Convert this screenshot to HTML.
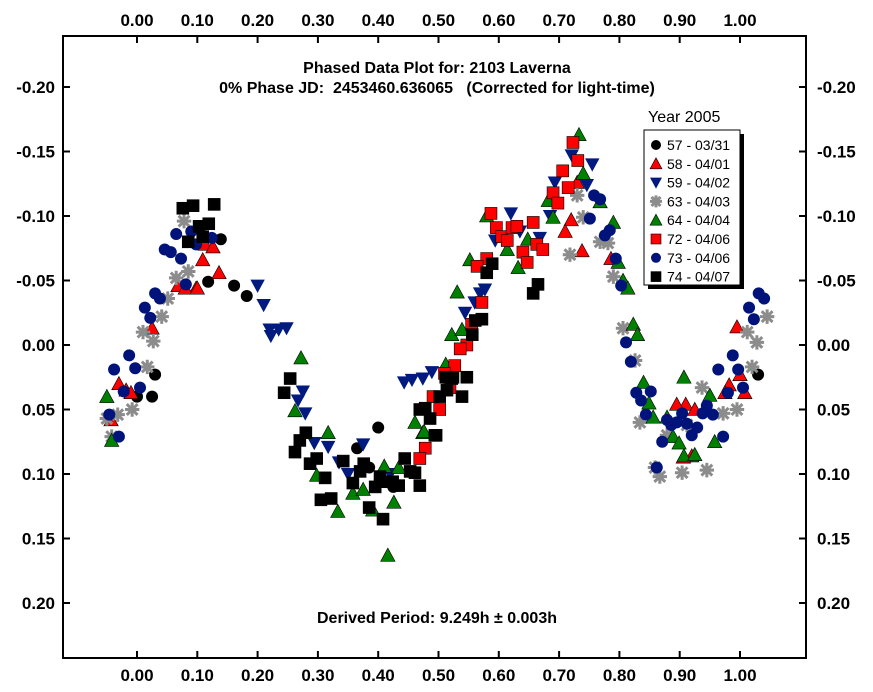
<!DOCTYPE html>
<html><head><meta charset="utf-8"><style>
body{margin:0;background:#fff;}
svg text{font-family:"Liberation Sans",Arial,sans-serif;}
</style></head><body>
<svg id="chart" width="873" height="687" xmlns="http://www.w3.org/2000/svg">
<rect x="0" y="0" width="873" height="687" fill="#fff"/>
<rect x="63" y="36" width="743" height="622" fill="none" stroke="#000" stroke-width="2"/>
<g id="axes"></g>
<g id="marks"></g>
<text x="437" y="73" text-anchor="middle" font-weight="bold" font-size="16">Phased Data Plot for: 2103 Laverna</text>
<text x="437" y="93" text-anchor="middle" font-weight="bold" font-size="16" xml:space="preserve">0% Phase JD:  2453460.636065   (Corrected for light-time)</text>
<text x="437" y="623" text-anchor="middle" font-weight="bold" font-size="16">Derived Period: 9.249h ± 0.003h</text>
<text x="648" y="122" font-size="16">Year 2005</text>
<rect x="648" y="134" width="96" height="155" fill="#000"/>
<rect x="644" y="130" width="96" height="155" fill="#fff" stroke="#000" stroke-width="1"/>
<g id="legend"></g>
</svg>
<script>
const xTicks=[0,0.1,0.2,0.3,0.4,0.5,0.6,0.7,0.8,0.9,1.0];
const xTickLabels=["0.00","0.10","0.20","0.30","0.40","0.50","0.60","0.70","0.80","0.90","1.00"];
const yTicks=[-0.2,-0.15,-0.1,-0.05,0,0.05,0.1,0.15,0.2];
const yTickLabels=["-0.20","-0.15","-0.10","-0.05","0.00","0.05","0.10","0.15","0.20"];
const seriesNames=["57 - 03/31","58 - 04/01","59 - 04/02","63 - 04/03","64 - 04/04","72 - 04/06","73 - 04/06","74 - 04/07"];
const s57=[[.139,-.082],[.118,-.049],[.161,-.046],[.182,-.038],[.03,.023],[.025,.04],[.40,.064],[.365,.08],[1.03,.023],[.0,.04],[.425,.11],[.385,.095]];
const s58=[[.113,-.078],[.126,-.076],[.109,-.066],[.136,-.056],[.098,-.044],[.068,-.046],[.08,-.044],[.1,-.044],[.025,-.013],[-.03,.03],[-.018,.035],[-.01,.037],[-.043,.058],[.73,-.126],[.72,-.097],[.71,-.088],[.738,-.073],[.786,-.067],[.995,-.014],[1.0,.023],[.982,.031],[1.008,.037],[.975,.037],[.91,.046],[.925,.05],[.92,.086],[.906,.087],[.895,.046]];
const s59=[[.2,-.046],[.21,-.031],[.22,-.012],[.235,-.012],[.248,-.013],[.222,-.007],[.275,.036],[.267,.043],[.279,.053],[.294,.076],[.317,.079],[.335,.091],[.375,.077],[.443,.029],[.456,.027],[.474,.026],[.489,.021],[.56,-.033],[.577,-.043],[.569,-.04],[.544,-.025],[.62,-.102],[.594,-.081],[.635,-.088],[.668,-.083],[.693,-.126],[.721,-.147],[.755,-.14],[.746,-.124],[.685,-.1],[.35,.1],[.42,.1]];
const s63=[[.078,-.096],[.065,-.052],[.085,-.057],[.051,-.036],[.041,-.022],[.01,-.01],[.027,-.003],[.017,.017],[-.008,.05],[-.032,.054],[-.05,.057],[-.042,.071],[.73,-.116],[.718,-.07],[.74,-.099],[.768,-.08],[.781,-.079],[.79,-.053],[.806,-.013],[.826,.012],[.834,.06],[.859,.095],[.867,.102],[.904,.099],[.945,.097],[.937,.033],[.972,.053],[.995,.05],[1.02,.017],[1.012,-.01],[1.028,-.002],[1.045,-.022],[.912,.062],[.879,.07]];
const s64=[[-.05,.04],[-.042,.074],[.272,.01],[.262,.051],[.317,.068],[.298,.101],[.333,.129],[.358,.115],[.375,.112],[.41,.094],[.426,.122],[.391,.128],[.434,.095],[.461,.06],[.474,.068],[.416,.163],[.531,-.041],[.522,-.008],[.539,-.012],[.512,.015],[.476,.067],[.552,-.066],[.58,-.1],[.614,-.074],[.632,-.06],[.648,-.082],[.682,-.112],[.69,-.099],[.733,-.163],[.74,-.133],[.768,-.111],[.79,-.095],[.798,-.064],[.806,-.05],[.814,-.044],[.823,-.016],[.83,-.008],[.84,.029],[.849,.045],[.856,.056],[.879,.056],[.889,.071],[.899,.076],[.907,.086],[.925,.085],[.907,.025],[.95,.039],[.958,.075]];
const s72=[[.723,-.157],[.731,-.143],[.706,-.135],[.69,-.118],[.698,-.11],[.715,-.122],[.587,-.102],[.596,-.091],[.605,-.084],[.614,-.081],[.622,-.091],[.63,-.092],[.657,-.095],[.663,-.078],[.673,-.074],[.64,-.072],[.647,-.064],[.58,-.067],[.564,-.061],[.572,-.033],[.555,-.016],[.547,0],[.536,.003],[.527,.016],[.51,.022],[.519,.033],[.491,.04],[.502,.05],[.478,.08],[.469,.088]];
const s73=[[.065,-.086],[.09,-.088],[.098,-.078],[.124,-.083],[.046,-.074],[.056,-.072],[.073,-.067],[.081,-.047],[.03,-.04],[.038,-.036],[.013,-.029],[.022,-.021],[-.013,.008],[-.038,.019],[-.003,.018],[.005,.033],[-.022,.036],[-.046,.054],[-.03,.071],[.751,-.098],[.758,-.116],[.768,-.113],[.784,-.089],[.776,-.085],[.794,-.067],[.803,-.046],[.811,-.002],[.819,.013],[.828,.037],[.836,.043],[.852,.036],[.844,.054],[.871,.075],[.862,.095],[.879,.058],[.886,.062],[.895,.06],[.904,.053],[.912,.061],[.92,.07],[.929,.064],[.938,.053],[.945,.047],[.955,.054],[.972,.071],[.964,.019],[.988,.008],[.997,.019],[.98,.037],[1.005,.033],[1.015,-.029],[1.023,-.02],[1.031,-.04],[1.04,-.036]];
const s74=[[.076,-.106],[.093,-.108],[.128,-.109],[.103,-.092],[.119,-.094],[.085,-.08],[.109,-.084],[.254,.026],[.244,.037],[.28,.068],[.27,.074],[.262,.083],[.287,.092],[.298,.088],[.312,.103],[.305,.12],[.322,.119],[.342,.09],[.358,.107],[.37,.098],[.376,.092],[.395,.11],[.403,.102],[.411,.106],[.424,.106],[.434,.109],[.385,.126],[.408,.135],[.444,.088],[.453,.098],[.461,.099],[.469,.109],[.496,.07],[.486,.057],[.478,.049],[.502,.04],[.514,.035],[.522,.026],[.556,-.008],[.561,-.019],[.572,-.02],[.539,.04],[.494,.07],[.657,-.04],[.665,-.047],[.58,-.056],[.589,-.063],[.469,.05],[.512,.025],[.524,.025],[.547,.025]];
const seriesData=[s57,s58,s59,s63,s64,s72,s73,s74];
const seriesStyle=[["circle","#000"],["tri","#f00"],["itri","#001a80"],["star","#8c8c8c"],["tri","#008000"],["square","#f00"],["circle","#00137a"],["square","#000"]];
const NS="http://www.w3.org/2000/svg";
function xs(v){return 137+v*603;}
function ys(v){return 345+v*1290;}
function mk(tag,attrs,parent){const e=document.createElementNS(NS,tag);for(const k in attrs)e.setAttribute(k,attrs[k]);parent.appendChild(e);return e;}
function marker(type,color,cx,cy,parent,r){
  let e;
  if(type==="circle"){e=mk("circle",{cx:cx,cy:cy,r:r*0.5,fill:color},parent);}
  else if(type==="tri"){e=mk("polygon",{points:`${cx},${cy-r*0.6} ${cx-r*0.6},${cy+r*0.5} ${cx+r*0.6},${cy+r*0.5}`,fill:color,stroke:"#000","stroke-width":0.6},parent);}
  else if(type==="itri"){e=mk("polygon",{points:`${cx},${cy+r*0.6} ${cx-r*0.6},${cy-r*0.5} ${cx+r*0.6},${cy-r*0.5}`,fill:color},parent);}
  else if(type==="square"){e=mk("rect",{x:cx-r*0.5,y:cy-r*0.5,width:r,height:r,fill:color,stroke:"#000","stroke-width":0.6},parent);}
  else {e=mk("path",{d:`M${cx-r*0.6},${cy}H${cx+r*0.6}M${cx},${cy-r*0.6}V${cy+r*0.6}M${cx-r*0.45},${cy-r*0.45}L${cx+r*0.45},${cy+r*0.45}M${cx-r*0.45},${cy+r*0.45}L${cx+r*0.45},${cy-r*0.45}`,stroke:color,"stroke-width":3,fill:"none"},parent);}
  return e;
}
const axes=document.getElementById("axes");
xTicks.forEach((t,i)=>{
  const x=xs(t);
  mk("line",{x1:x,y1:36,x2:x,y2:43,stroke:"#000","stroke-width":2},axes);
  mk("line",{x1:x,y1:658,x2:x,y2:651,stroke:"#000","stroke-width":2},axes);
  const a=mk("text",{x:x,y:26,"text-anchor":"middle","font-size":17,"font-weight":"bold"},axes);a.textContent=xTickLabels[i];
  
  
  const b=mk("text",{x:x,y:681,"text-anchor":"middle","font-size":17,"font-weight":"bold"},axes);b.textContent=xTickLabels[i];
  
  
});
yTicks.forEach((t,i)=>{
  const y=ys(t);
  mk("line",{x1:63,y1:y,x2:70,y2:y,stroke:"#000","stroke-width":2},axes);
  mk("line",{x1:806,y1:y,x2:799,y2:y,stroke:"#000","stroke-width":2},axes);
  const a=mk("text",{x:55,y:y+6,"text-anchor":"end","font-size":17,"font-weight":"bold"},axes);a.textContent=yTickLabels[i];
  
  
  const b=mk("text",{x:817,y:y+6,"text-anchor":"start","font-size":17,"font-weight":"bold"},axes);b.textContent=yTickLabels[i];
  
  
});
const marks=document.getElementById("marks");
seriesData.forEach((arr,si)=>{
  const g=mk("g",{},marks);
  
  
  arr.forEach(p=>{
    const m=marker(seriesStyle[si][0],seriesStyle[si][1],xs(p[0]),ys(p[1]),g,12);
    
    
  });
});
const legend=document.getElementById("legend");
seriesNames.forEach((n,i)=>{
  const y=145+i*18.8;
  const g=mk("g",{},legend);
  
  
  marker(seriesStyle[i][0],seriesStyle[i][1],656,y,g,10);
  const t=mk("text",{x:667,y:y+5,"font-size":14},g);t.textContent=n;
});
</script>
</body></html>
